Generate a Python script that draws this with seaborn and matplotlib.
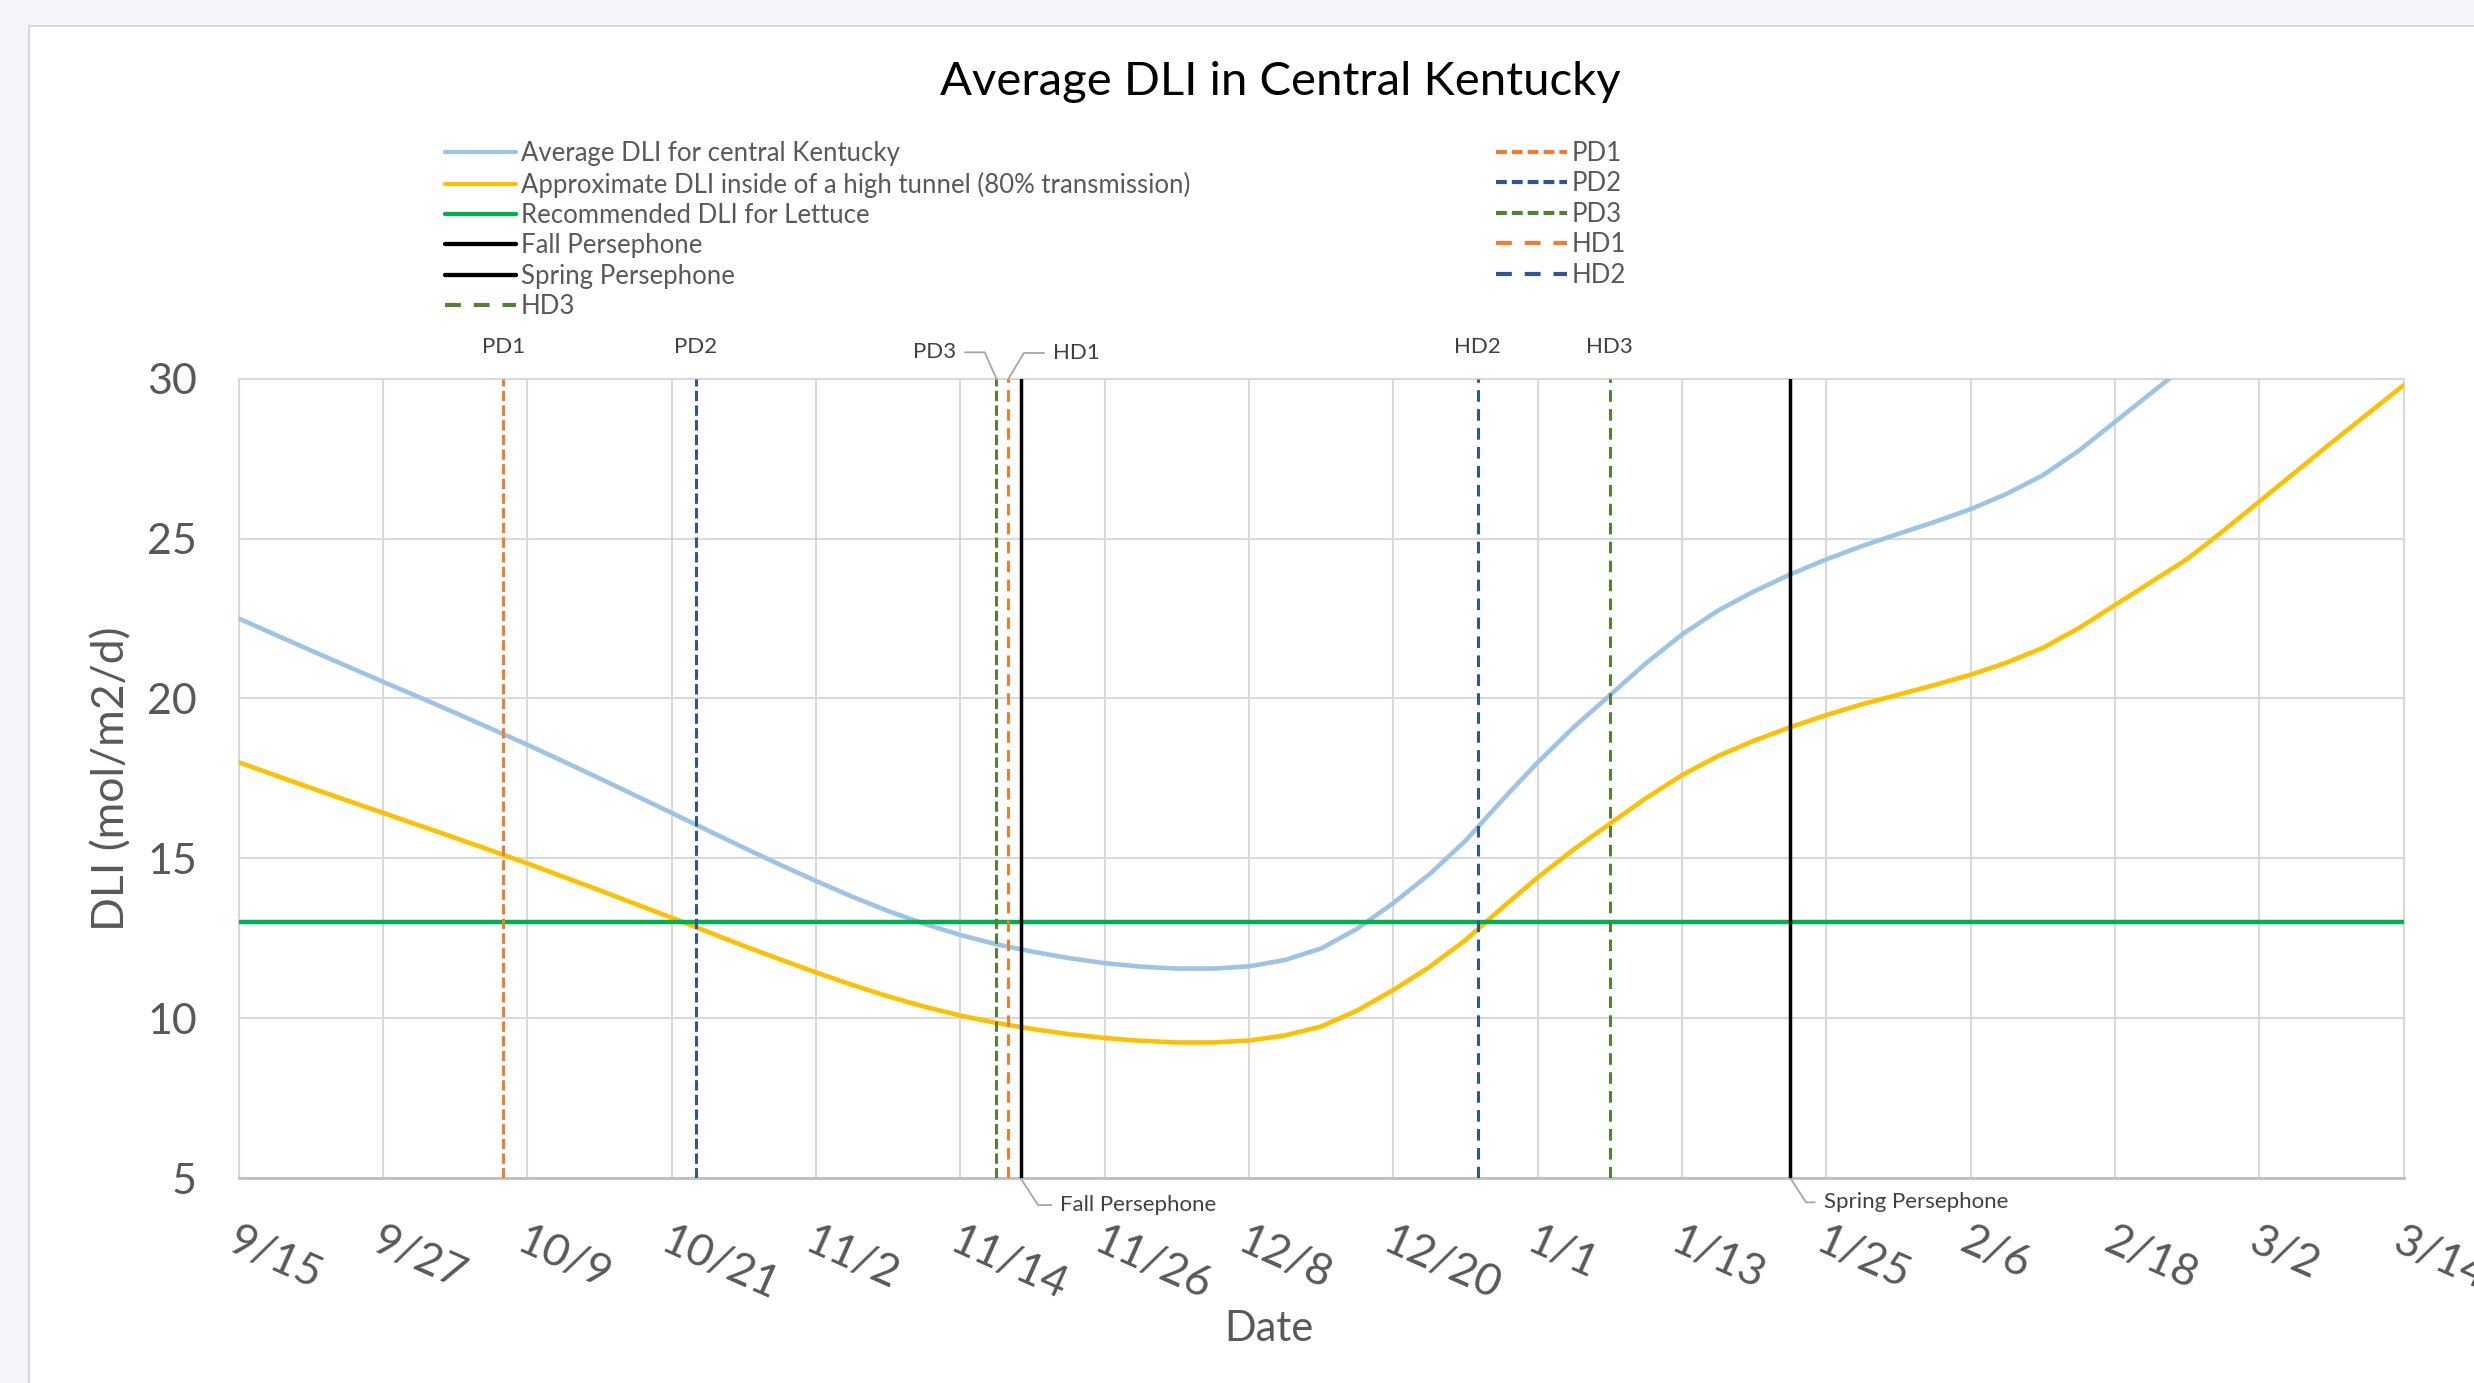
import numpy as np
import pandas as pd
import matplotlib
matplotlib.use("Agg")
import matplotlib.pyplot as plt
import matplotlib.transforms as mtransforms
import seaborn as sns
from matplotlib.lines import Line2D
from matplotlib.patches import Rectangle

# Days counted from September 15
days = [0, 3, 6, 9, 12, 15, 18, 21, 24, 27, 30, 33, 36, 39, 42, 45, 48, 51, 54, 57,
        60, 63, 66, 69, 72, 75, 78, 81, 84, 87, 90, 93, 96, 99, 102, 105, 108, 111,
        114, 117, 120, 123, 126, 129, 132, 135, 138, 141, 144, 147, 150, 153, 156,
        159, 162, 165, 168, 171, 174, 177, 180]

# Average outdoor daily light integral, central Kentucky (mol/m2/d)
avg_dli = [22.50, 22.00, 21.50, 21.01, 20.52, 20.04, 19.55, 19.05, 18.55, 18.03,
           17.50, 16.96, 16.42, 15.87, 15.33, 14.80, 14.29, 13.80, 13.35, 12.95,
           12.60, 12.31, 12.08, 11.88, 11.72, 11.61, 11.55, 11.55, 11.62, 11.82,
           12.18, 12.80, 13.60, 14.50, 15.55, 16.80, 18.00, 19.10, 20.10, 21.10,
           22.00, 22.75, 23.35, 23.88, 24.35, 24.77, 25.15, 25.52, 25.92, 26.40,
           26.98, 27.75, 28.65, 29.55, 30.45, 31.55, 32.70, 33.85, 35.00, 36.12,
           37.25]

# Approximate DLI inside a high tunnel (80% transmission)
tunnel_dli = [18.00, 17.60, 17.20, 16.81, 16.42, 16.03, 15.64, 15.24, 14.84, 14.42,
              14.00, 13.57, 13.14, 12.70, 12.26, 11.84, 11.43, 11.04, 10.68, 10.36,
              10.08, 9.85, 9.66, 9.50, 9.38, 9.29, 9.24, 9.24, 9.30, 9.46,
              9.74, 10.24, 10.88, 11.60, 12.44, 13.44, 14.40, 15.28, 16.08, 16.88,
              17.60, 18.20, 18.68, 19.10, 19.48, 19.82, 20.12, 20.42, 20.74, 21.12,
              21.58, 22.20, 22.92, 23.64, 24.36, 25.24, 26.16, 27.08, 28.00, 28.90,
              29.80]

lettuce_dli = 13

tick_days = [0, 12, 24, 36, 48, 60, 72, 84, 96, 108, 120, 132, 144, 156, 168, 180]
tick_labels = ["9/15", "9/27", "10/9", "10/21", "11/2", "11/14", "11/26", "12/8",
               "12/20", "1/1", "1/13", "1/25", "2/6", "2/18", "3/2", "3/14"]
y_ticks = [5, 10, 15, 20, 25, 30]

# Planting / harvest dates and the Persephone period boundaries (days from 9/15)
pd_names = ["PD1", "PD2", "PD3"]
pd_days = [22, 38, 63]
hd_names = ["HD1", "HD2", "HD3"]
hd_days = [64, 103, 114]
fall_persephone = 65
spring_persephone = 129

LABEL_GRAY = "#595959"
ORANGE, DBLUE, DGREEN = "#ed7d31", "#2f5597", "#548235"
PD_DASH = (0, (3.4, 1.4))
HD_DASH = (0, (3.8, 2.4))
PD_DASH_LEG = (0, (2.6, 1.2))
HD_DASH_LEG = (0, (3.8, 3.1))

sns.set_theme(style="white")
plt.rcParams["font.family"] = ["Lato", "DejaVu Sans"]

fig = plt.figure(figsize=(24.74, 13.83), dpi=100, facecolor="#f3f5fa")
fig.patches.append(Rectangle((29 / 2474, -0.01), 1.0, 1 - 26 / 1383 + 0.01,
                             transform=fig.transFigure, facecolor="white",
                             edgecolor="#d5d8df", lw=1.5, zorder=-10))

ax = fig.add_axes([238.7 / 2474, 1 - 1178 / 1383, 2165 / 2474, 799.3 / 1383])
ax.set_zorder(1)
ax.set_facecolor("white")

df = pd.DataFrame({"day": days, "avg": avg_dli, "tunnel": tunnel_dli})
sns.lineplot(data=df, x="day", y="avg", ax=ax, color="#9dc3e6", lw=3.3, zorder=3)
sns.lineplot(data=df, x="day", y="tunnel", ax=ax, color="#ffc000", lw=3.3, zorder=3)
ax.axhline(lettuce_dli, color="#00b050", lw=3.2, zorder=3)

pd_colors = [ORANGE, DBLUE, DGREEN]
for d, c in zip(pd_days, pd_colors):
    ax.axvline(d, color=c, lw=2.2, ls=PD_DASH, zorder=4)
for d, c in zip(hd_days, pd_colors):
    ax.axvline(d, color=c, lw=2.2, ls=HD_DASH, zorder=4)
ax.axvline(fall_persephone, color="black", lw=2.5, zorder=4)
ax.axvline(spring_persephone, color="black", lw=2.5, zorder=4)

ax.set_xlim(0, 180)
ax.set_ylim(5, 30)
ax.set_xticks(tick_days)
ax.set_xticks(np.arange(0, 180.01, 2.4), minor=True)
ax.set_xticklabels(tick_labels, rotation=-24, ha="left", va="top",
                   rotation_mode="anchor")
shift = mtransforms.ScaledTranslation(0.08, 0, fig.dpi_scale_trans)
for lbl in ax.get_xticklabels():
    lbl.set_transform(lbl.get_transform() + shift)
ax.set_yticks(y_ticks)
ax.grid(True, which="major", color="#d9d9d9", lw=1.5)
ax.set_axisbelow(True)
for side in ["top", "right", "left", "bottom"]:
    ax.spines[side].set_color("#d9d9d9")
    ax.spines[side].set_linewidth(1.5)
ax.spines["bottom"].set_color("#bfbfbf")
ax.spines["bottom"].set_linewidth(2)
ax.tick_params(axis="x", which="major", direction="in", length=11, width=1.5,
               color="#bfbfbf", pad=30, labelsize=32, labelcolor=LABEL_GRAY)
ax.tick_params(axis="x", which="minor", direction="in", length=8, width=1.5,
               color="#bfbfbf")
ax.tick_params(axis="y", length=0, pad=30, labelsize=31, labelcolor=LABEL_GRAY)

ax.set_xlabel("Date", fontsize=30, color=LABEL_GRAY)
ax.xaxis.set_label_coords(0.476, -0.165)
ax.set_ylabel("DLI (mol/m2/d)", fontsize=32, color=LABEL_GRAY)
ax.yaxis.set_label_coords(-0.049, 0.5)

fig.text(1280 / 2474, 1 - 82 / 1383, "Average DLI in Central Kentucky",
         ha="center", va="center", fontsize=34, color="black")

# Labels on the vertical date lines
ann_kw = dict(fontsize=16, color="#404040", textcoords="offset points")
for name, d in [("PD1", pd_days[0]), ("PD2", pd_days[1]),
                ("HD2", hd_days[1]), ("HD3", hd_days[2])]:
    ax.annotate(name, xy=(d, 30), xytext=(0, 23), ha="center", va="center",
                annotation_clip=False, **ann_kw)

leader = dict(arrowstyle="-", color="#a6a6a6", lw=1.3, shrinkB=0)
ax.annotate("PD3", xy=(pd_days[2], 30), xytext=(-29, 19), ha="right", va="center",
            annotation_clip=False,
            arrowprops=dict(leader, relpos=(1, 0.5), shrinkA=4,
                            connectionstyle="angle,angleA=0,angleB=114,rad=0"),
            **ann_kw)
ax.annotate("HD1", xy=(hd_days[0], 30), xytext=(32, 18.5), ha="left", va="center",
            annotation_clip=False,
            arrowprops=dict(leader, relpos=(0, 0.5), shrinkA=4,
                            connectionstyle="angle,angleA=0,angleB=59,rad=0"),
            **ann_kw)
ax.annotate("Fall Persephone", xy=(fall_persephone, 5), xytext=(28.5, -19.5),
            ha="left", va="center", annotation_clip=False,
            arrowprops=dict(leader, relpos=(0, 0.5), shrinkA=4,
                            connectionstyle="angle,angleA=0,angleB=-57,rad=0"),
            **ann_kw)
ax.annotate("Spring Persephone", xy=(spring_persephone, 5), xytext=(24, -17.5),
            ha="left", va="center", annotation_clip=False,
            arrowprops=dict(leader, relpos=(0, 0.5), shrinkA=4,
                            connectionstyle="angle,angleA=0,angleB=-57,rad=0"),
            **ann_kw)

# Two-column legend
left_handles = [
    Line2D([], [], color="#9dc3e6", lw=3.1),
    Line2D([], [], color="#ffc000", lw=3.1),
    Line2D([], [], color="#00b050", lw=3.1),
    Line2D([], [], color="black", lw=3.1),
    Line2D([], [], color="black", lw=3.1),
    Line2D([], [], color=DGREEN, lw=3, ls=HD_DASH_LEG),
]
left_labels = ["Average DLI for central Kentucky",
               "Approximate DLI inside of a high tunnel (80% transmission)",
               "Recommended DLI for Lettuce", "Fall Persephone",
               "Spring Persephone", "HD3"]
right_handles = [
    Line2D([], [], color=ORANGE, lw=3, ls=PD_DASH_LEG),
    Line2D([], [], color=DBLUE, lw=3, ls=PD_DASH_LEG),
    Line2D([], [], color=DGREEN, lw=3, ls=PD_DASH_LEG),
    Line2D([], [], color=ORANGE, lw=3, ls=HD_DASH_LEG),
    Line2D([], [], color=DBLUE, lw=3, ls=HD_DASH_LEG),
]
right_labels = ["PD1", "PD2", "PD3", "HD1", "HD2"]

leg_kw = dict(loc="upper left", frameon=False, fontsize=18.5, borderpad=0,
              borderaxespad=0, handlelength=2.75, handletextpad=0.2,
              labelspacing=0.21, labelcolor=LABEL_GRAY)
leg1 = fig.legend(left_handles, left_labels,
                  bbox_to_anchor=(445 / 2474, 1 - 141 / 1383), **leg_kw)
leg2 = fig.legend(right_handles, right_labels,
                  bbox_to_anchor=(1496 / 2474, 1 - 141 / 1383), **leg_kw)

fig.savefig("out.png", dpi=100, facecolor=fig.get_facecolor())
